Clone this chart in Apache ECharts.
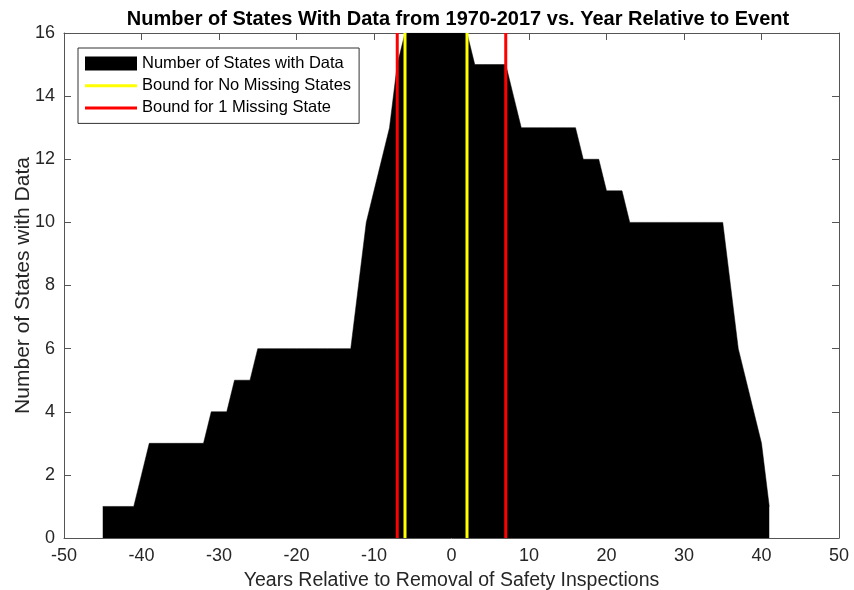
<!DOCTYPE html>
<html>
<head>
<meta charset="utf-8">
<script src="https://cdn.jsdelivr.net/npm/echarts@6/dist/echarts.min.js"></script>
<style>
html,body{margin:0;padding:0;background:#fff;}
#chart{width:854px;height:590px;}
</style>
</head>
<body>
<div id="chart"></div>
<script>
var years = [-45,-44,-43,-42,-41,-40,-39,-38,-37,-36,-35,-34,-33,-32,-31,-30,-29,-28,-27,-26,-25,-24,-23,-22,-21,-20,-19,-18,-17,-16,-15,-14,-13,-12,-11,-10,-9,-8,-7,-6,-5,-4,-3,-2,-1,0,1,2,3,4,5,6,7,8,9,10,11,12,13,14,15,16,17,18,19,20,21,22,23,24,25,26,27,28,29,30,31,32,33,34,35,36,37,38,39,40,41];
var statesWithData = [1,1,1,1,1,2,3,3,3,3,3,3,3,3,4,4,4,5,5,5,6,6,6,6,6,6,6,6,6,6,6,6,6,8,10,11,12,13,15,16,16,16,16,16,16,16,16,16,15,15,15,15,15,14,13,13,13,13,13,13,13,13,12,12,12,11,11,11,10,10,10,10,10,10,10,10,10,10,10,10,10,8,6,5,4,3,1];
var noMissingBounds = [-6, 2];
var oneMissingBounds = [-7, 7];
var xTicks = [-50,-40,-30,-20,-10,0,10,20,30,40,50];
var yTicks = [0,2,4,6,8,10,12,14,16];

var FONT = '"Liberation Sans", Arial, Helvetica, sans-serif';
var AXC = '#555555';
var TXT = '#262626';

var areaData = years.map(function(y, i){ return [y, statesWithData[i]]; });

function vline(x, name, color){
  return {
    name: name, type: 'line', data: [[x, 0], [x, 16]],
    showSymbol: false, symbol: 'none', silent: true,
    lineStyle: {color: color, width: 3}, itemStyle: {color: color},
    z: 5, animation: false
  };
}

var series = [{
  name: 'Number of States with Data', type: 'line', data: areaData,
  showSymbol: false, symbol: 'none',
  lineStyle: {color: '#000', width: 0.5},
  itemStyle: {color: '#000'},
  areaStyle: {color: '#000', opacity: 1},
  z: 2, animation: false
}];
oneMissingBounds.forEach(function(x){ series.push(vline(x, 'Bound for 1 Missing State', '#ff0000')); });
noMissingBounds.forEach(function(x){ series.push(vline(x, 'Bound for No Missing States', '#ffff00')); });

var lineIcon = 'path://M0,0 L52,0 L52,3 L0,3 Z';

var chart = echarts.init(document.getElementById('chart'));
chart.setOption({
  animation: false,
  backgroundColor: '#fff',
  title: {
    text: 'Number of States With Data from 1970-2017 vs. Year Relative to Event',
    left: 453, top: 4, textAlign: 'center',
    textStyle: {fontFamily: FONT, fontSize: 20, fontWeight: 'bold', color: '#000'}
  },
  legend: {
    orient: 'vertical', left: 78, top: 48,
    padding: [7, 8, 7, 7],
    itemWidth: 52, itemHeight: 14, itemGap: 5.2,
    backgroundColor: '#fff', borderColor: '#333', borderWidth: 1,
    textStyle: {fontFamily: FONT, fontSize: 16.5, color: '#000', lineHeight: 14},
    data: [
      {name: 'Number of States with Data', icon: 'rect'},
      {name: 'Bound for No Missing States', icon: lineIcon},
      {name: 'Bound for 1 Missing State', icon: lineIcon}
    ]
  },
  grid: {left: 64, right: 15, top: 33, bottom: 52, containLabel: false, outerBoundsMode: 'none'},
  xAxis: [{
    type: 'value', min: -50, max: 50, interval: 10, position: 'bottom',
    name: 'Years Relative to Removal of Safety Inspections',
    nameLocation: 'middle', nameGap: 33, nameMoveOverlap: false,
    nameTextStyle: {fontFamily: FONT, fontSize: 19.5, color: TXT},
    axisLine: {show: true, lineStyle: {color: AXC, width: 1}},
    axisTick: {show: true, inside: true, length: 7, lineStyle: {color: AXC}},
    axisLabel: {fontFamily: FONT, fontSize: 18, color: TXT, margin: 9},
    splitLine: {show: false}
  }, {
    type: 'value', min: -50, max: 50, interval: 10, position: 'top',
    axisLine: {show: true, onZero: false, lineStyle: {color: AXC, width: 1}},
    axisTick: {show: true, inside: true, length: 7, lineStyle: {color: AXC}},
    axisLabel: {show: false}, splitLine: {show: false}
  }],
  yAxis: [{
    type: 'value', min: 0, max: 16, interval: 2, position: 'left',
    name: 'Number of States with Data',
    nameLocation: 'middle', nameGap: 30, nameRotate: 90, nameMoveOverlap: false,
    nameTextStyle: {fontFamily: FONT, fontSize: 21, color: TXT},
    axisLine: {show: true, onZero: false, lineStyle: {color: AXC, width: 1}},
    axisTick: {show: true, inside: true, length: 7, lineStyle: {color: AXC}},
    axisLabel: {fontFamily: FONT, fontSize: 18, color: TXT, margin: 9},
    splitLine: {show: false}
  }, {
    type: 'value', min: 0, max: 16, interval: 2, position: 'right',
    axisLine: {show: true, onZero: false, lineStyle: {color: AXC, width: 1}},
    axisTick: {show: true, inside: true, length: 7, lineStyle: {color: AXC}},
    axisLabel: {show: false}, splitLine: {show: false}
  }],
  series: series
});
</script>
</body>
</html>
